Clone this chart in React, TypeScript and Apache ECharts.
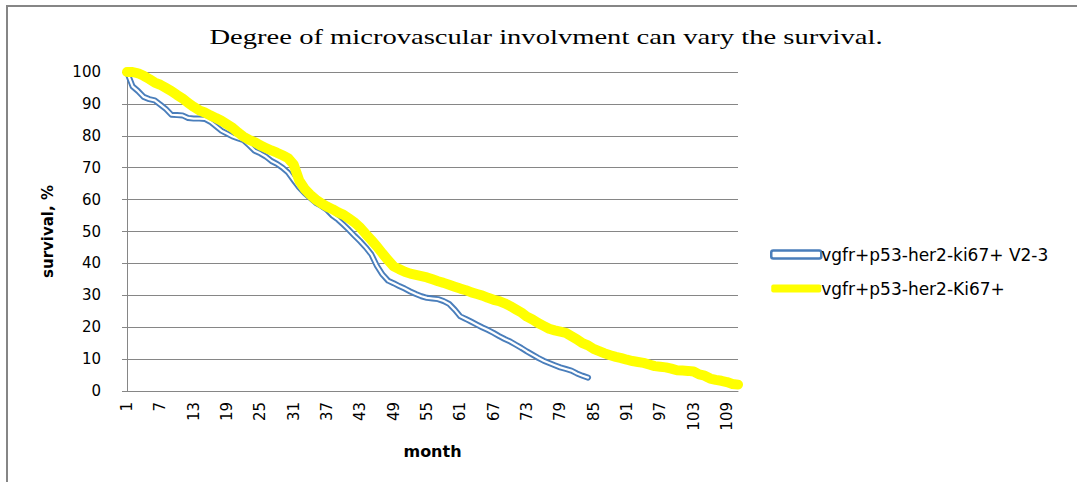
import React, { useEffect, useRef } from "react";
import * as echarts from "echarts";

const months = [
  "1","2","3","4","5","6","7","8","9","10","11","12","13","14","15","16","17","18","19","20",
  "21","22","23","24","25","26","27","28","29","30","31","32","33","34","35","36","37","38","39","40",
  "41","42","43","44","45","46","47","48","49","50","51","52","53","54","55","56","57","58","59","60",
  "61","62","63","64","65","66","67","68","69","70","71","72","73","74","75","76","77","78","79","80",
  "81","82","83","84","85","86","87","88","89","90","91","92","93","94","95","96","97","98","99","100",
  "101","102","103","104","105","106","107","108","109","110","111"
];

const seriesV23Name = "vgfr+p53-her2-ki67+ V2-3";
const seriesKi67Name = "vgfr+p53-her2-Ki67+";

const survivalV23 = [
  100, 95.5, 94, 92.2, 91.5, 91.1, 89.8, 88.4, 86.6, 86.5,
  86.4, 85.6, 85.4, 85.4, 85.3, 84.4, 83, 81.6, 80.7, 79.8,
  79.2, 78.6, 77, 75.3, 74.5, 73.5, 72.1, 71.2, 70, 68.5,
  66.1, 63.8, 62, 60.5, 59, 58, 56.8, 55, 53.7, 52.1,
  50.4, 48.6, 46.9, 45, 42.8, 39.2, 36.5, 34.6, 33.8, 32.9,
  32.1, 31.2, 30.4, 29.7, 29.2, 29, 28.8, 28.2, 27.3, 25.5,
  23.4, 22.6, 21.7, 20.8, 19.9, 19.1, 18.2, 17.2, 16.3, 15.5,
  14.5, 13.5, 12.4, 11.4, 10.4, 9.5, 8.8, 8.1, 7.4, 6.9,
  6.4, 5.5, 4.8, 4.2
];

const survivalKi67 = [
  100, 100, 99.6, 98.8, 97.8, 96.7, 96, 95, 94, 92.8,
  91.7, 90.3, 89.1, 88, 87.3, 86.4, 85.6, 84.7, 83.6, 82.5,
  81, 79.7, 78.7, 78, 77, 76.2, 75.4, 74.7, 73.9, 73,
  71, 66, 63.3, 61.5, 60, 58.8, 57.8, 57, 56, 55.2,
  54, 52.8, 51.2, 49.2, 47.3, 45.3, 43.1, 41, 39.1, 38.2,
  37.4, 36.8, 36.4, 36, 35.6, 35, 34.4, 33.9, 33.3, 32.7,
  32.1, 31.6, 30.9, 30.4, 29.9, 29.2, 28.6, 28.2, 27.5, 26.6,
  25.6, 24.6, 23.3, 22.4, 21.3, 20.4, 19.5, 19, 18.6, 18.2,
  17.2, 16.2, 15, 14.3, 13.2, 12.5, 11.8, 11.2, 10.7, 10.3,
  9.8, 9.4, 9.1, 8.8, 8.3, 7.8, 7.6, 7.4, 7, 6.5,
  6.4, 6.3, 6.1, 5.2, 4.8, 3.9, 3.5, 3.2, 2.8, 2.2,
  2
];

const titleText = "Degree of microvascular involvment can vary the survival.";
const xName = "month";
const yName = "survival, %";

const BLUE = "#4a7ebb";
const YELLOW = "#ffff00";
const GRID = "#868686";
const SANS = "DejaVu Sans";

export default function App() {
  const ref = useRef<HTMLDivElement>(null);

  useEffect(() => {
    if (!ref.current) return;
    const chart = echarts.init(ref.current, null, { renderer: "svg" });
    chart.setOption({
      animation: false,
      backgroundColor: "#ffffff",
      grid: { left: 127, right: 339, top: 72, bottom: 91, containLabel: false },
      graphic: [
        {
          type: "rect",
          shape: { x: 7, y: 6, width: 1200, height: 600 },
          style: { fill: "none", stroke: GRID, lineWidth: 2 },
          silent: true,
        },
        {
          type: "text",
          x: 546,
          y: 37,
          scaleX: 1.3,
          style: {
            text: titleText,
            font: "22px 'Liberation Serif'",
            fill: "#000",
            textAlign: "center",
            textVerticalAlign: "middle",
          },
        },
      ],
      legend: {
        orient: "vertical",
        left: 765,
        top: 241,
        itemWidth: 50,
        itemHeight: 8,
        itemGap: 17,
        textStyle: { fontFamily: SANS, fontSize: 17, color: "#000", padding: [0, 0, 0, -5] },
        data: [
          {
            name: seriesV23Name,
            icon: "roundRect",
            itemStyle: { color: "#ffffff", borderColor: BLUE, borderWidth: 2.5 },
          },
          { name: seriesKi67Name, icon: "roundRect", itemStyle: { color: YELLOW, borderWidth: 0 } },
        ],
      },
      xAxis: {
        type: "category",
        data: months,
        boundaryGap: false,
        name: xName,
        nameLocation: "middle",
        nameGap: 52,
        nameTextStyle: { fontFamily: SANS, fontSize: 16, fontWeight: "bold", color: "#000" },
        axisLine: { lineStyle: { color: GRID, width: 1 } },
        axisTick: { show: false },
        axisLabel: {
          interval: 5,
          rotate: 90,
          margin: 11,
          fontFamily: SANS,
          fontSize: 15,
          color: "#000",
        },
        splitLine: { show: false },
      },
      yAxis: {
        type: "value",
        min: 0,
        max: 100,
        interval: 10,
        name: yName,
        nameLocation: "middle",
        nameGap: 72,
        nameTextStyle: { fontFamily: SANS, fontSize: 15, fontWeight: "bold", color: "#000" },
        axisLine: { show: true, lineStyle: { color: GRID, width: 1 } },
        axisTick: { show: true, length: 5, lineStyle: { color: GRID } },
        axisLabel: { margin: 26, fontFamily: SANS, fontSize: 15, color: "#000" },
        splitLine: { lineStyle: { color: GRID, width: 1 } },
      },
      series: [
        {
          name: seriesV23Name,
          type: "line",
          data: survivalV23,
          showSymbol: false,
          symbol: "none",
          lineStyle: { color: BLUE, width: 6, cap: "round", join: "round" },
          itemStyle: { color: BLUE },
          z: 2,
        },
        {
          name: "inner",
          type: "line",
          data: survivalV23,
          showSymbol: false,
          symbol: "none",
          lineStyle: { color: "#ffffff", width: 2.2, cap: "round", join: "round" },
          itemStyle: { color: "#ffffff" },
          z: 3,
        },
        {
          name: seriesKi67Name,
          type: "line",
          data: survivalKi67,
          showSymbol: false,
          symbol: "none",
          lineStyle: { color: YELLOW, width: 10, cap: "round", join: "round" },
          itemStyle: { color: YELLOW },
          z: 4,
        },
      ],
    });
    return () => chart.dispose();
  }, []);

  return (
    <div
      ref={ref}
      style={{ position: "absolute", left: 0, top: 0, width: 1077, height: 482 }}
    />
  );
}
